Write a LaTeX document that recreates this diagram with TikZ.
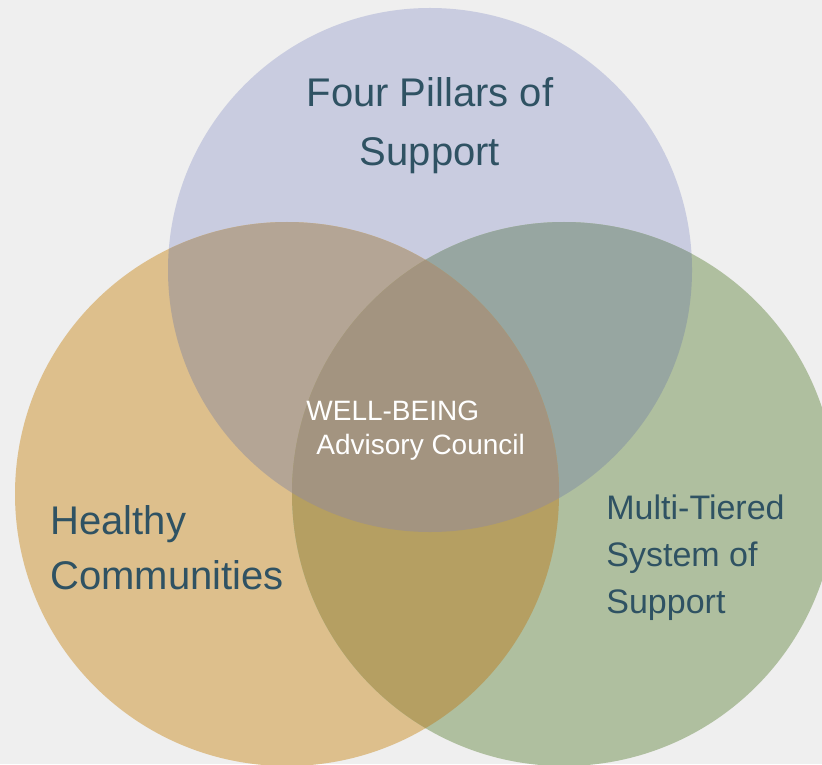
\documentclass[tikz,border=0pt]{standalone}
\usepackage{fontspec}
\setmainfont{Liberation Sans}
\definecolor{bgc}{RGB}{239,239,239}
\definecolor{topc}{RGB}{201,204,224}
\definecolor{leftc}{RGB}{221,191,140}
\definecolor{rightc}{RGB}{175,191,159}
\definecolor{tlc}{RGB}{180,165,149}
\definecolor{trc}{RGB}{151,166,161}
\definecolor{lrc}{RGB}{181,159,98}
\definecolor{allc}{RGB}{163,148,128}
\definecolor{labc}{RGB}{47,82,99}
\tikzset{lab/.style={inner sep=0pt,text=labc,anchor=west,align=left}}
\def\pillars{(430,270) circle (262)}
\def\healthy{(287,494) circle (272)}
\def\tiered{(564,494) circle (272)}
\begin{document}
\begin{tikzpicture}[x=0.5pt,y=-0.5pt,line join=round]
	\useasboundingbox (0,0) rectangle (822,764);
	\fill[bgc] (0,0) rectangle (822,764);
	%Circles
	\fill[topc] \pillars;
	\fill[leftc] \healthy;
	\fill[rightc] \tiered;
	%Overlaps
	\begin{scope}
		\clip \pillars;
		\fill[tlc] \healthy;
		\fill[trc] \tiered;
	\end{scope}
	\begin{scope}
		\clip \healthy;
		\fill[lrc] \tiered;
	\end{scope}
	\begin{scope}
		\clip \pillars;
		\clip \healthy;
		\fill[allc] \tiered;
	\end{scope}
	%Labels
	\node[lab,anchor=center,align=center,font=\fontsize{20}{29.5}\selectfont] (pillars) at (430,126) {Four Pillars of\\Support};
	\node[lab,font=\fontsize{20}{27.5}\selectfont] (healthy) at (50,548) {Healthy\\Communities};
	\node[lab,font=\fontsize{17}{23.5}\selectfont] (mtss) at (606,558) {Multi-Tiered\\System of\\Support};
	\node[lab,text=white,font=\fontsize{14}{17}\selectfont] (council) at (306,431) {WELL-BEING\\\hspace*{5pt}Advisory Council};
\end{tikzpicture}
\end{document}
